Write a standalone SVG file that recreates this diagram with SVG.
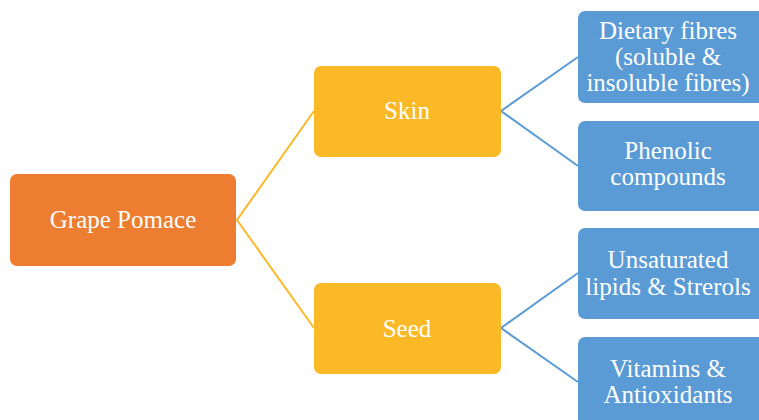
<svg xmlns="http://www.w3.org/2000/svg" width="759" height="420" viewBox="0 0 759 420">
  <style>
    .root { fill: #ED7D31; }
    .part { fill: #FBB927; }
    .item { fill: #5B9BD5; }
    .lbl { font-size: 25px; fill: #FFFFFF; text-anchor: middle; }
    .ly { stroke: #FBB927; stroke-width: 2; fill: none; }
    .lb { stroke: #5B9BD5; stroke-width: 2; fill: none; }
  </style>
  <rect width="759" height="420" fill="#FFFFFF"/>

  <g id="connectors">
    <polyline class="ly" points="314,111 237,220 314,328"/>
    <polyline class="lb" points="578,57 501,111 578,166"/>
    <polyline class="lb" points="578,273 501,328 578,382"/>
  </g>

  <g font-family="Liberation Serif, serif">
  <g id="grape-pomace">
    <rect class="root" x="10" y="174" width="226" height="92" rx="7"/>
    <text class="lbl" x="123" y="228">Grape Pomace</text>
  </g>

  <g id="skin">
    <rect class="part" x="314" y="66" width="187" height="91" rx="7"/>
    <text class="lbl" x="407" y="119">Skin</text>
  </g>

  <g id="seed">
    <rect class="part" x="314" y="283" width="187" height="91" rx="7"/>
    <text class="lbl" x="407" y="337">Seed</text>
  </g>

  <g id="dietary-fibres">
    <rect class="item" x="578" y="11" width="200" height="92" rx="7"/>
    <text class="lbl" x="668" y="39">Dietary fibres</text>
    <text class="lbl" x="668" y="65">(soluble &amp;</text>
    <text class="lbl" x="668" y="91">insoluble fibres)</text>
  </g>

  <g id="phenolic-compounds">
    <rect class="item" x="578" y="121" width="200" height="90" rx="7"/>
    <text class="lbl" x="668" y="159">Phenolic</text>
    <text class="lbl" x="668" y="185">compounds</text>
  </g>

  <g id="lipids-sterols">
    <rect class="item" x="578" y="228" width="200" height="91" rx="7"/>
    <text class="lbl" x="668" y="268">Unsaturated</text>
    <text class="lbl" x="668" y="295">lipids &amp; Strerols</text>
  </g>

  <g id="vitamins-antioxidants">
    <rect class="item" x="578" y="337" width="200" height="100" rx="7"/>
    <text class="lbl" x="668" y="377">Vitamins &amp;</text>
    <text class="lbl" x="668" y="403">Antioxidants</text>
  </g>
  </g>
</svg>
